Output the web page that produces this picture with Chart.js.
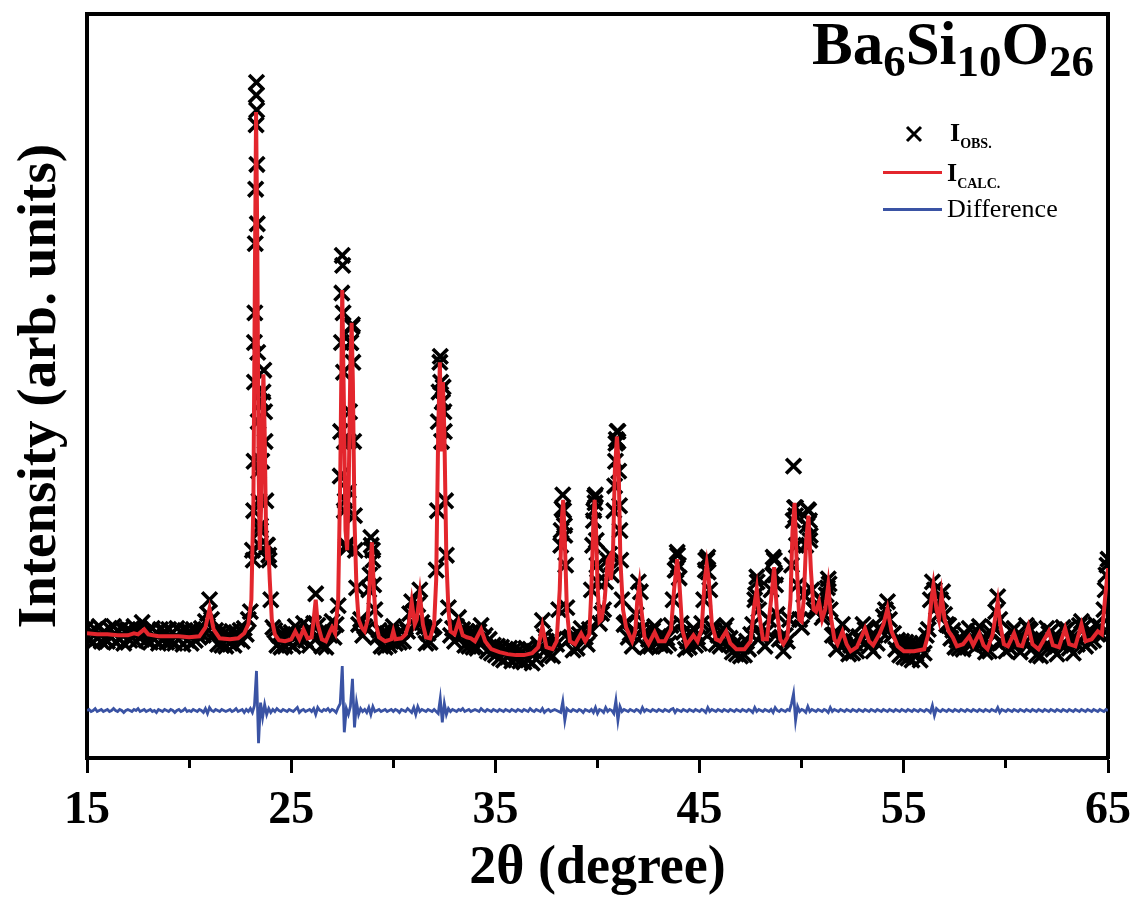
<!DOCTYPE html>
<html><head><meta charset="utf-8">
<script src="https://cdn.jsdelivr.net/npm/chart.js@4.4.1/dist/chart.umd.min.js"></script>
<style>
html,body{margin:0;padding:0;background:#fff;}
#wrap{position:relative;width:1142px;height:903px;overflow:hidden;}
#c{position:absolute;left:0;top:0;}
#formula{position:absolute;left:812px;top:13px;font:bold 61px 'Liberation Serif',serif;line-height:1;color:#000;white-space:nowrap;}
#formula sub{font-size:45px;vertical-align:-12px;line-height:0;}
.leg{position:absolute;font-family:'Liberation Serif',serif;font-size:26px;color:#000;white-space:nowrap;line-height:1;}
.leg sub{font-size:14px;vertical-align:-7px;line-height:0;}
.ln{position:absolute;width:59px;height:3px;}
</style></head>
<body>
<div id="wrap">
<canvas id="c" width="1142" height="903"></canvas>
<div id="formula">Ba<sub>6</sub>Si<sub>10</sub>O<sub>26</sub></div>
<svg style="position:absolute;left:905px;top:125px" width="18" height="18"><path d="M2 2 L16 16 M16 2 L2 16" stroke="#000" stroke-width="3"/></svg>
<div class="leg" style="left:950px;top:120px"><b>I<sub>OBS.</sub></b></div>
<div class="ln" style="left:883px;top:171px;background:#e3262d"></div>
<div class="leg" style="left:947px;top:160px"><b>I<sub>CALC.</sub></b></div>
<div class="ln" style="left:883px;top:208px;background:#3a53a4"></div>
<div class="leg" style="left:947px;top:196px">Difference</div>
</div>
<script>
// 2θ grid of the measurement (degrees)
const obsStart = 15, obsStep = 0.1;
// Observed intensity (arb. units), one row per degree, 15.0 ... 65.0
const iObs = [
132,119,128,117,130,121,133,118,127,120,
118,131,122,133,117,129,120,131,116,128,
130,119,127,133,118,129,121,137,126,119,
129,117,131,120,127,116,130,119,128,117,
130,118,127,116,131,120,128,115,129,119,
128,116,130,119,127,122,131,124,138,146,
160,140,124,129,115,127,114,126,113,125,
116,128,114,127,120,129,118,131,125,140,
148,210,420,683,290,230,360,350,215,205,
160,132,129,114,124,112,125,113,126,116,
127,113,133,118,126,120,136,119,128,114,
129,136,166,134,127,113,126,112,127,124,
138,122,135,154,285,508,250,212,320,420,
438,245,172,135,140,124,133,130,170,223,
200,150,122,129,113,127,112,126,114,128,
133,116,125,117,128,118,132,128,146,158,
148,133,155,170,137,132,116,126,117,131,
133,190,340,406,360,330,205,152,124,131,
118,133,142,126,130,114,128,113,127,112,
126,111,128,134,121,124,108,120,106,114,
104,113,101,112,99,110,102,111,98,109,
100,108,98,107,97,111,99,110,96,108,
100,115,111,139,123,118,104,116,103,120,
115,150,215,266,225,152,120,122,109,123,
111,125,131,119,122,115,130,170,240,266,
178,136,146,150,178,200,206,185,250,318,
330,230,160,135,137,122,126,113,129,145,
178,168,131,127,112,120,113,129,133,116,
123,114,122,113,121,116,134,160,190,208,
182,136,127,110,118,112,126,131,114,122,
116,136,160,200,203,170,132,129,115,124,
113,127,130,134,115,121,107,115,105,113,
103,113,104,118,110,125,135,160,183,150,
123,126,113,128,140,170,203,185,145,120,
122,108,124,118,140,195,295,253,175,140,
132,165,215,251,220,170,150,148,155,160,
142,145,165,181,150,124,125,110,125,118,
135,115,121,105,114,106,116,108,123,118,
135,130,129,113,122,108,124,116,132,128,
143,150,158,140,124,126,110,119,104,118,
102,117,101,116,99,115,105,114,99,115,
106,124,130,160,178,170,152,145,160,168,
145,135,134,121,129,112,119,111,119,110,
125,116,131,115,121,112,128,133,116,122,
107,116,108,126,132,148,163,140,117,122,
108,118,111,128,131,115,120,107,122,116,
134,131,129,111,119,104,118,103,120,113,
131,126,128,110,119,105,121,114,132,129,
130,111,120,106,122,115,134,138,132,113,
127,117,126,119,135,125,133,124,150,185,
201];
// Extra observed points read along the steep peak flanks [2θ, intensity]
const obsPeakPoints = [
[23.14,200],[23.16,250],[23.18,300],[23.2,380],[23.22,450],[23.24,520],[23.26,575],[23.28,640],[23.29,670],[23.31,655],[23.32,600],[23.34,540],[23.36,410],[23.38,340],[23.42,260],[23.45,215],[23.5,235],[23.56,300],[23.62,370],[23.66,392],[23.72,320],[23.76,260],[23.84,215],[23.92,200],
[27.42,330],[27.46,420],[27.48,470],[27.52,498],[27.54,450],[27.56,390],[27.6,320],[27.64,260],[27.7,215],[27.8,270],[27.86,350],[27.92,420],[27.98,436],[28.02,400],[28.06,320],[28.14,210],
[28.86,185],[28.92,215],[28.98,210],[29.04,175],
[32.16,250],[32.24,370],[32.28,400],[32.32,380],[32.36,320],[32.4,360],[32.44,375],[32.48,350],[32.56,260],
[38.22,230],[38.26,252],[38.34,250],[38.38,235],[38.44,195],
[39.76,215],[39.82,250],[39.86,264],[39.88,258],[39.94,220],[39.97,195],
[40.84,275],[40.88,300],[40.92,322],[40.96,330],[41.0,320],[41.04,290],[41.08,255],[41.14,200],
[43.84,190],[43.92,205],[43.96,195],
[45.28,190],[45.36,200],[45.42,188],
[47.74,165],[47.82,178],
[48.58,185],[48.66,200],[48.72,175],
[49.58,240],[49.65,253],[49.7,245],[49.74,215],
[50.26,235],[50.34,250],[50.38,240],[50.42,225],
[51.26,172],[51.34,176],
[64.86,170],[64.95,195]];
// Calculated profile [2θ, intensity]
const iCalc = [
[15.0,126],[15.5,125],[16.0,125],[16.5,124],[17.0,124],[17.3,126],[17.5,125],[17.8,130],[18.0,125],[18.5,123],[19.0,123],[19.5,123],[20.0,122],[20.5,123],[20.8,132],[21.0,151],[21.2,130],[21.5,121],[22.0,120],[22.4,121],[22.7,126],[22.9,135],
[23.05,160],[23.15,260],[23.22,480],[23.28,653],[23.34,520],[23.4,300],[23.46,210],[23.52,250],[23.58,340],[23.64,388],[23.7,330],[23.76,240],[23.82,200],[23.88,215],[23.95,180],[24.05,140],[24.2,125],[24.4,119],[24.7,118],
[25.0,120],[25.2,128],[25.4,120],[25.6,130],[25.8,121],[26.0,122],[26.1,140],[26.2,160],[26.3,135],[26.5,120],[26.7,118],[26.9,128],[27.0,132],[27.15,126],[27.3,160],[27.4,280],[27.5,473],[27.58,360],[27.66,230],[27.74,210],[27.82,280],[27.9,400],[27.96,440],[28.02,380],[28.1,240],[28.2,170],[28.3,140],[28.45,132],[28.6,128],[28.75,140],[28.85,180],[28.95,218],[29.05,170],[29.15,135],[29.3,122],[29.6,118],[29.9,120],
[30.0,128],[30.1,120],[30.4,121],[30.6,125],[30.75,135],[30.9,158],[31.05,135],[31.15,140],[31.3,166],[31.45,135],[31.6,122],[31.8,121],[32.0,135],[32.1,180],[32.2,330],[32.28,400],[32.36,310],[32.43,380],[32.5,330],[32.6,200],[32.7,150],[32.8,128],[33.0,125],[33.2,138],[33.4,124],[33.6,122],[33.8,121],[34.0,118],[34.3,130],[34.5,118],[34.8,110],
[35.2,107],[35.6,105],[36.0,104],[36.4,104],[36.8,106],[37.1,112],[37.3,133],[37.5,112],[37.8,110],[38.0,118],[38.15,170],[38.25,240],[38.32,261],[38.4,220],[38.5,150],[38.65,118],[38.9,115],[39.2,126],[39.4,118],[39.6,125],[39.7,170],[39.8,240],[39.86,261],[39.93,230],
[40.0,175],[40.1,138],[40.2,140],[40.35,160],[40.5,200],[40.58,203],[40.65,180],[40.75,200],[40.85,290],[40.95,325],[41.03,300],[41.12,200],[41.25,150],[41.4,132],[41.55,125],[41.7,118],[41.85,128],[41.95,160],[42.05,175],[42.15,150],[42.3,122],[42.5,115],[42.8,127],[43.0,118],[43.3,118],[43.6,130],[43.75,170],[43.9,201],[44.0,180],[44.15,130],[44.35,114],[44.7,124],[44.9,118],
[45.1,130],[45.25,180],[45.35,196],[45.45,180],[45.6,135],[45.8,120],[46.0,118],[46.3,128],[46.5,116],[46.8,110],[47.2,110],[47.5,118],[47.65,150],[47.8,171],[47.92,145],[48.1,120],[48.3,120],[48.5,160],[48.65,193],[48.78,150],[48.95,120],[49.1,115],[49.3,122],[49.45,160],[49.55,230],[49.65,258],[49.75,200],[49.88,140],
[50.0,138],[50.1,160],[50.22,220],[50.33,245],[50.45,190],[50.58,150],[50.7,148],[50.85,158],[51.0,140],[51.15,150],[51.3,175],[51.45,140],[51.6,120],[51.75,115],[52.0,128],[52.2,115],[52.4,108],[52.7,112],[53.1,131],[53.3,118],[53.5,114],[53.8,125],[54.0,135],[54.2,151],[54.4,128],[54.7,113],
[55.0,108],[55.5,108],[56.0,110],[56.2,125],[56.35,160],[56.45,175],[56.6,150],[56.72,140],[56.85,165],[57.0,140],[57.2,128],[57.4,122],[57.6,113],[57.9,115],[58.2,123],[58.4,114],[58.7,126],[58.9,114],[59.1,110],[59.35,125],[59.5,145],[59.6,158],[59.72,135],[59.9,115],
[60.1,113],[60.4,126],[60.6,114],[60.8,113],[61.1,133],[61.3,115],[61.6,110],[62.1,128],[62.3,114],[62.6,112],[62.9,131],[63.1,115],[63.4,113],[63.7,135],[63.9,118],[64.2,120],[64.5,128],[64.7,125],[64.85,160],[65.0,192]];
// Difference curve (offset below the pattern), same 2θ grid as iObs
const iDiff = [
48,49,47,48,50,47,48,49,47,48,
49,47,48,50,48,47,49,48,46,48,
49,48,47,49,48,50,47,48,49,47,
48,49,47,48,46,49,48,47,49,48,
47,49,48,46,48,49,47,48,50,47,
48,47,49,48,47,49,48,46,50,45,
51,48,47,49,48,47,49,48,47,48,
49,47,48,50,47,48,49,46,49,47,
50,46,53,88,15,56,41,54,44,50,
46,49,47,50,48,47,49,48,47,49,
48,47,49,51,46,48,49,47,48,49,
47,50,44,51,48,47,49,48,50,47,
49,48,46,51,55,93,26,50,44,52,
80,31,56,44,50,47,49,46,51,44,
52,47,48,49,47,48,49,47,48,49,
47,49,48,46,49,48,47,50,48,46,
51,44,52,47,49,48,47,49,48,47,
49,47,45,60,36,55,44,50,47,49,
48,47,49,48,50,47,48,49,47,48,
49,48,47,50,48,47,49,48,47,49,
48,47,49,48,47,49,48,47,49,48,
47,49,48,47,49,48,47,50,48,47,
49,48,47,50,46,48,49,47,48,49,
48,47,46,57,38,50,48,47,49,48,
47,49,48,46,49,48,47,49,46,51,
45,49,48,46,51,47,49,48,45,58,
38,52,47,49,48,47,49,48,47,49,
48,46,51,47,49,48,47,49,48,47,
49,48,47,49,48,47,49,50,46,49,
48,47,49,48,47,49,48,47,49,48,
47,49,48,46,51,47,49,48,47,49,
48,47,49,48,47,49,48,47,49,48,
47,49,48,47,49,48,46,51,47,49,
48,47,49,48,47,49,46,51,48,47,
49,48,47,49,48,55,65,38,52,47,
49,48,46,52,47,49,48,47,49,48,
47,49,48,46,51,47,49,48,47,49,
48,47,49,48,47,49,48,47,49,48,
47,49,48,47,49,48,47,49,48,47,
49,48,47,49,48,47,49,48,47,49,
48,47,49,48,47,49,48,47,49,48,
47,49,48,46,53,43,50,48,47,49,
48,47,49,48,47,49,48,47,49,48,
47,49,48,47,49,48,47,49,48,47,
49,48,47,49,48,47,51,46,49,48,
47,49,48,47,49,48,47,49,48,47,
49,48,47,49,48,47,49,48,47,49,
48,47,49,48,47,49,48,47,49,48,
47,49,48,47,49,48,47,49,48,47,
49,48,47,49,48,47,49,48,47,49,
48];
const xMin = 15, xMax = 65, majorStep = 10, minorStep = 5;
const seriesLabels = ['I_OBS.', 'I_CALC.', 'Difference'];

const gridX = i => +(obsStart + i * obsStep).toFixed(2);
const obsData = iObs.map((v, i) => ({x: gridX(i), y: v}))
  .concat(obsPeakPoints.map(p => ({x: p[0], y: p[1]})));
const calcData = iCalc.map(p => ({x: p[0], y: p[1]}));
const diffData = iDiff.map((v, i) => ({x: gridX(i), y: v}));

const serif = 'Liberation Serif';
const isMajor = v => Math.abs(((v - xMin) % majorStep)) < 1e-6;

new Chart(document.getElementById('c'), {
  type: 'scatter',
  data: {
    datasets: [
      {label: seriesLabels[0], data: obsData, showLine: false, pointStyle: 'crossRot',
       pointRadius: 10.5, pointBorderWidth: 3.6, pointBorderColor: '#000', pointBackgroundColor: '#000', order: 3},
      {label: seriesLabels[1], data: calcData, showLine: true, borderColor: '#e3262d', borderWidth: 4,
       pointRadius: 0, tension: 0, order: 2},
      {label: seriesLabels[2], data: diffData, showLine: true, borderColor: '#3a53a4', borderWidth: 2.8,
       pointRadius: 0, tension: 0, order: 1}
    ]
  },
  options: {
    responsive: false, animation: false, devicePixelRatio: 1,
    layout: {padding: {top: 6, right: 34, bottom: 0, left: 0}},
    plugins: {legend: {display: false}, tooltip: {enabled: false}, title: {display: false}},
    scales: {
      x: {
        type: 'linear', position: 'bottom', min: xMin, max: xMax,
        afterFit: s => { s.height = 145; },
        ticks: {stepSize: minorStep, autoSkip: false, maxRotation: 0, color: '#000', padding: 11,
                font: {family: serif, weight: 'bold', size: 46},
                callback: v => (isMajor(v) ? String(v) : '')},
        grid: {drawOnChartArea: false, drawTicks: true, tickLength: 15, tickWidth: 3, tickColor: '#000',
               tickBorderDash: c => (c.tick && isMajor(c.tick.value) ? [] : [8, 40])},
        border: {display: true, color: '#000', width: 4},
        title: {display: true, text: '2θ (degree)', color: '#000',
                font: {family: serif, weight: 'bold', size: 54}, padding: {top: 0, bottom: 2}}
      },
      y: {
        type: 'linear', position: 'left', min: 0, max: 752,
        afterFit: s => { s.width = 87; },
        ticks: {display: false},
        grid: {display: false},
        border: {display: true, color: '#000', width: 4},
        title: {display: true, text: 'Intensity (arb. units)', color: '#000',
                font: {family: serif, weight: 'bold', size: 55}, padding: {top: 8, bottom: 0}}
      },
      xTop: {
        type: 'linear', axis: 'x', position: 'top', min: xMin, max: xMax,
        afterFit: s => { s.height = 0; },
        ticks: {display: false}, grid: {display: false},
        border: {display: true, color: '#000', width: 4}
      },
      yRight: {
        type: 'linear', axis: 'y', position: 'right', min: 0, max: 752,
        afterFit: s => { s.width = 0; },
        ticks: {display: false}, grid: {display: false},
        border: {display: true, color: '#000', width: 4}
      }
    }
  }
});
</script>
</body></html>
